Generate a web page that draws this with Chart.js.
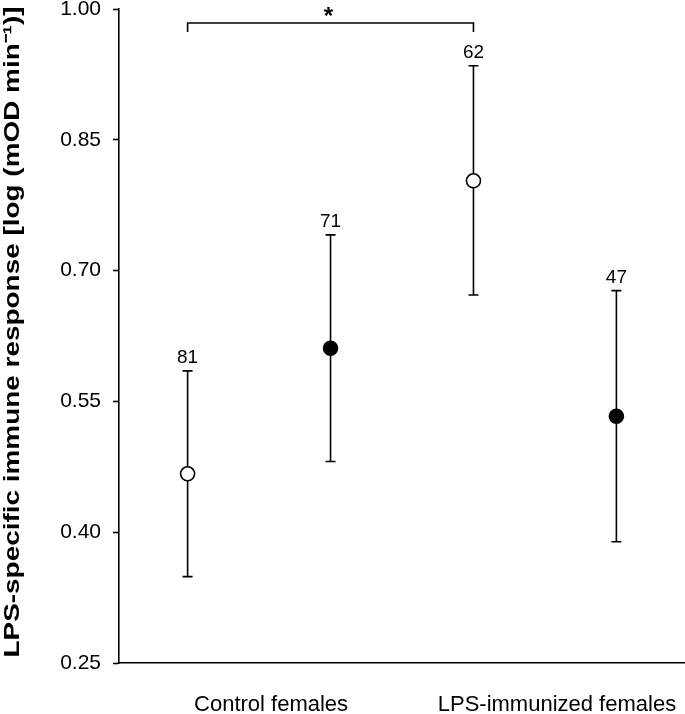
<!DOCTYPE html>
<html>
<head>
<meta charset="utf-8">
<script src="https://cdn.jsdelivr.net/npm/chart.js@4"></script>
<style>
  html, body { margin: 0; padding: 0; background: #fff; }
  #wrap { width: 685px; height: 714px; }
</style>
</head>
<body>
<div id="wrap"><canvas id="immuneChart"></canvas></div>
<script>
// data
const groups = ["Control females", "LPS-immunized females"];
const groupCenters = [1.5, 3.5];
const xPos = [1, 2, 3, 4];
const means = [0.467, 0.611, 0.803, 0.533];
const upper = [0.585, 0.741, 0.935, 0.677];
const lower = [0.349, 0.481, 0.672, 0.389];
const sampleN = [81, 71, 62, 47];
const filled = [false, true, false, true];
const yTicks = [0.25, 0.40, 0.55, 0.70, 0.85, 1.00];
const sigPair = [0, 2]; // control open vs LPS open
const sigLabel = "*";
const yTitle = "LPS-specific immune response [log (mOD min\u207B\u00B9)]";

const FONT = "'Liberation Sans', Arial, Helvetica, sans-serif";

/* error bars, n labels, bracket and the (wide) y title */
const extras = {
  id: "extras",
  beforeDatasetsDraw(chart) {
    const ctx = chart.ctx;
    const x = chart.scales.x, y = chart.scales.y;
    ctx.save();
    ctx.strokeStyle = "#000";
    ctx.lineWidth = 1.6;
    xPos.forEach((v, i) => {
      const px = x.getPixelForValue(v);
      const top = y.getPixelForValue(upper[i]);
      const bot = y.getPixelForValue(lower[i]);
      ctx.beginPath();
      ctx.moveTo(px, top); ctx.lineTo(px, bot);
      ctx.moveTo(px - 5, top); ctx.lineTo(px + 5, top);
      ctx.moveTo(px - 5, bot); ctx.lineTo(px + 5, bot);
      ctx.stroke();
    });
    ctx.restore();
  },
  afterDatasetsDraw(chart) {
    const ctx = chart.ctx;
    const x = chart.scales.x, y = chart.scales.y;
    const area = chart.chartArea;
    ctx.save();
    ctx.fillStyle = "#000";
    ctx.font = "19px " + FONT;
    ctx.textAlign = "center";
    ctx.textBaseline = "alphabetic";
    xPos.forEach((v, i) => {
      ctx.fillText(String(sampleN[i]), x.getPixelForValue(v), y.getPixelForValue(upper[i]) - 8);
    });

    // bracket
    const x1 = x.getPixelForValue(xPos[sigPair[0]]);
    const x2 = x.getPixelForValue(xPos[sigPair[1]]);
    const by = area.top + 14;
    ctx.strokeStyle = "#000";
    ctx.lineWidth = 1.6;
    ctx.beginPath();
    ctx.moveTo(x1, by + 9); ctx.lineTo(x1, by);
    ctx.lineTo(x2, by); ctx.lineTo(x2, by + 9);
    ctx.stroke();
    ctx.font = "bold 24px " + FONT;
    ctx.textBaseline = "middle";
    ctx.fillText(sigLabel, (x1 + x2) / 2 - 2, by - 6);

    // y axis title, stretched along its length like the original
    ctx.font = "bold 22px " + FONT;
    ctx.textBaseline = "alphabetic";
    const w = ctx.measureText(yTitle).width;
    ctx.translate(19, (area.top + area.bottom) / 2 - 4);
    ctx.rotate(-Math.PI / 2);
    ctx.scale(651 / w, 1);
    ctx.fillText(yTitle, 0, 0);
    ctx.restore();
  }
};

new Chart(document.getElementById("immuneChart"), {
  type: "scatter",
  data: {
    datasets: [{
      data: xPos.map((v, i) => ({ x: v, y: means[i] })),
      pointRadius: 7,
      pointHoverRadius: 7,
      pointBorderWidth: 1.6,
      pointBorderColor: "#000",
      pointBackgroundColor: filled.map(f => f ? "#000" : "#fff")
    }]
  },
  options: {
    responsive: true,
    maintainAspectRatio: false,
    animation: false,
    layout: { autoPadding: false, padding: { top: 9, right: 0, left: 0, bottom: 0 } },
    plugins: {
      legend: { display: false },
      tooltip: { enabled: false }
    },
    scales: {
      x: {
        type: "linear",
        min: 0.52,
        max: 4.48,
        afterBuildTicks: s => { s.ticks = groupCenters.map(v => ({ value: v })); },
        afterFit: s => { s.height = 51; s.paddingLeft = 0; s.paddingRight = 0; },
        grid: { display: false },
        border: { display: true, color: "#000", width: 1.6 },
        ticks: {
          callback: (v, i) => groups[i],
          color: "#000",
          font: { family: FONT, size: 22 },
          padding: 21,
          labelOffset: 12,
          maxRotation: 0,
          autoSkip: false
        }
      },
      y: {
        min: 0.25,
        max: 1.00,
        afterBuildTicks: s => { s.ticks = yTicks.map(v => ({ value: v })); },
        afterFit: s => { s.width = 119; s.paddingTop = 0; s.paddingBottom = 0; },
        grid: { drawOnChartArea: false, tickLength: 6, tickColor: "#000", tickWidth: 1.6 },
        border: { display: true, color: "#000", width: 1.6 },
        title: { display: false },
        ticks: {
          callback: v => v.toFixed(2),
          color: "#000",
          font: { family: FONT, size: 21 },
          padding: 12
        }
      }
    }
  },
  plugins: [extras]
});
</script>
</body>
</html>
